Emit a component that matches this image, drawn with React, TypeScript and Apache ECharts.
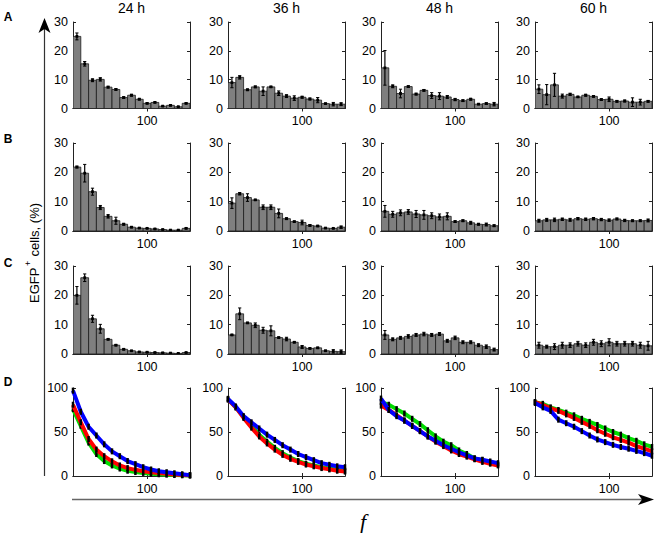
import React, { useEffect, useRef } from 'react';
import * as echarts from 'echarts';

const timeLabels = ['24 h', '36 h', '48 h', '60 h'];
const rowLabels = ['A', 'B', 'C', 'D'];
const binCenters = [10, 20, 30, 40, 50, 60, 70, 80, 90, 100, 110, 120, 130, 140, 150];
const curvePoints = [5, 15, 25, 35, 45, 55, 65, 75, 85, 95, 105, 115, 125, 135, 145, 155];
const xTickValues = [100];
const barTicks = [0, 10, 20, 30];
const curveTicks = [0, 50, 100];

// Row A
const a24 = [25, 15.5, 9.8, 10.1, 7.4, 6.6, 3.8, 4.6, 3.2, 1.8, 2.1, 0.8, 1.1, 0.6, 1.8];
const a24Err = [1.2, 0.8, 0.5, 0.6, 0.3, 0.3, 0.3, 0.3, 0.2, 0.2, 0.2, 0.1, 0.2, 0.1, 0.2];
const a36 = [9.0, 10.8, 6.5, 7.5, 6.0, 7.5, 5.3, 4.3, 3.6, 3.9, 3.3, 2.9, 1.7, 1.5, 1.5];
const a36Err = [1.8, 0.6, 0.2, 0.3, 1.5, 0.2, 0.8, 0.5, 0.8, 0.3, 0.3, 0.9, 0.2, 0.6, 0.5];
const a48 = [14.1, 7.7, 5.2, 7.6, 5.0, 6.3, 4.5, 4.3, 4.0, 3.1, 2.7, 3.2, 1.5, 1.7, 1.5];
const a48Err = [6.0, 0.5, 1.5, 0.3, 0.3, 0.3, 1.0, 1.2, 0.5, 0.4, 0.3, 0.3, 0.2, 0.3, 0.6];
const a60 = [6.7, 4.8, 8.2, 4.3, 4.9, 4.0, 4.6, 4.2, 3.1, 3.2, 2.5, 2.6, 2.2, 2.2, 2.5];
const a60Err = [1.5, 3.5, 4.0, 0.7, 0.4, 0.2, 0.3, 0.3, 0.3, 0.8, 0.3, 0.3, 1.5, 1.0, 0.3];

// Row B
const b24 = [21.8, 19.7, 13.4, 8.0, 5.0, 3.5, 2.3, 1.3, 1.0, 0.9, 0.7, 0.5, 0.3, 0.3, 0.9];
const b24Err = [0.3, 3.0, 1.2, 0.7, 0.6, 1.2, 0.3, 0.2, 0.1, 0.1, 0.1, 0.1, 0.1, 0.1, 0.2];
const b36 = [9.5, 12.7, 11.4, 10.6, 8.1, 8.1, 6.0, 4.2, 3.2, 2.9, 1.9, 1.7, 1.0, 0.9, 1.3];
const b36Err = [1.8, 0.4, 1.3, 0.2, 0.8, 0.8, 1.5, 0.3, 0.2, 0.8, 0.3, 0.2, 0.1, 0.1, 0.4];
const b48 = [6.7, 5.7, 6.2, 6.5, 5.8, 5.5, 5.2, 4.8, 5.0, 3.2, 3.5, 2.8, 2.3, 2.2, 1.8];
const b48Err = [2.0, 1.0, 1.0, 0.8, 1.2, 1.5, 1.0, 1.0, 1.2, 0.3, 0.3, 0.5, 0.3, 0.5, 0.3];
const b60 = [3.5, 3.8, 3.8, 4.0, 3.8, 4.2, 4.0, 4.2, 3.9, 3.7, 4.1, 3.6, 3.5, 3.5, 3.6];
const b60Err = [0.5, 0.5, 0.6, 0.4, 0.5, 0.4, 0.4, 0.4, 0.4, 0.4, 0.3, 0.4, 0.3, 0.3, 0.5];

// Row C
const c24 = [20, 26, 12, 8.6, 5.0, 3.0, 1.6, 1.1, 0.7, 0.6, 0.5, 0.4, 0.3, 0.2, 0.5];
const c24Err = [3.0, 1.3, 1.2, 1.5, 0.2, 0.2, 0.2, 0.1, 0.1, 0.1, 0.1, 0.1, 0.1, 0.1, 0.1];
const c36 = [6.5, 13.7, 10.6, 9.8, 8.1, 7.9, 5.6, 5.1, 4.0, 2.4, 1.9, 2.1, 1.1, 0.9, 0.8];
const c36Err = [0.2, 2.0, 0.2, 0.8, 1.0, 1.7, 0.2, 0.6, 0.2, 0.5, 0.2, 0.2, 0.2, 0.6, 0.6];
const c48 = [6.5, 5.0, 5.5, 6.0, 6.5, 6.8, 6.5, 6.8, 4.5, 5.5, 4.0, 4.0, 3.0, 2.5, 1.5];
const c48Err = [1.5, 0.5, 0.5, 0.6, 0.5, 0.6, 0.5, 0.5, 0.5, 0.6, 0.5, 0.5, 0.5, 0.6, 0.5];
const c60 = [3.0, 2.5, 2.5, 3.0, 3.0, 3.5, 3.0, 4.0, 3.5, 4.0, 3.5, 3.5, 3.5, 3.0, 2.8];
const c60Err = [1.0, 0.5, 1.0, 1.0, 0.8, 0.8, 0.8, 1.0, 1.0, 1.2, 0.8, 0.8, 0.8, 1.0, 1.5];

// Row D (green, red, blue curves)
const d24Green = [76, 57, 38, 25, 17, 12, 8.5, 6, 4.5, 3.5, 2.6, 2, 1.5, 1.1, 0.8, 0.5];
const d24Red = [81, 61, 42, 30, 22.5, 16.7, 12, 9, 7, 5.5, 4.3, 3.3, 2.5, 1.8, 1.2, 0.8];
const d24Blue = [97, 73, 56, 46, 36, 28, 22.5, 17, 13.5, 10, 7.4, 5.4, 4.3, 3.1, 2, 1];
const d36Green = [87, 78, 67, 57, 47, 39, 32, 26, 21, 17, 14, 12, 10, 8.5, 7, 6];
const d36Red = [87, 78, 66, 55, 45, 37, 30, 24, 19.5, 16, 13, 11, 9, 7.5, 6, 5];
const d36Blue = [87.7, 79, 68, 61, 54, 47, 41, 35, 30, 25, 21.5, 18, 14.6, 12.7, 11, 10];
const d48Green = [84, 81, 76, 71, 65, 59, 52, 45, 39, 35, 29, 25, 20, 18, 15, 13];
const d48Red = [80, 75, 69, 63, 57, 51, 45, 39, 34, 29, 25, 22, 19, 16, 14, 12];
const d48Blue = [88, 75, 68, 63, 57, 51, 45, 40, 35, 31, 27, 23.5, 20, 18.5, 16.5, 14.6];
const d60Green = [84, 82, 78, 75, 72, 69, 65, 61.5, 58, 54, 50, 47, 43, 40, 36, 33];
const d60Red = [84, 81, 77, 74, 70, 66, 61.5, 57, 52, 48, 44, 41, 38, 34, 31, 28];
const d60Blue = [83, 78, 74, 64, 60, 56, 51, 46, 41.5, 38.5, 35.4, 33, 31, 28.5, 26, 23];

const barRows = [
  [[a24, a24Err], [a36, a36Err], [a48, a48Err], [a60, a60Err]],
  [[b24, b24Err], [b36, b36Err], [b48, b48Err], [b60, b60Err]],
  [[c24, c24Err], [c36, c36Err], [c48, c48Err], [c60, c60Err]],
];
const curveRow = [
  [d24Green, d24Red, d24Blue],
  [d36Green, d36Red, d36Blue],
  [d48Green, d48Red, d48Blue],
  [d60Green, d60Red, d60Blue],
];
const curveColors = ['#00dd00', '#ff0000', '#0000ff'];

const colLeft = [73, 228, 381, 535];
const colWidth = 117;
const rowTop = [22, 143, 266, 388];
const rowHeight = [86.5, 88, 88, 88];
const letterY = [17, 139, 263, 382];
const FONT = '"Liberation Sans", Arial, sans-serif';

function buildOption() {
  const grid: any[] = [];
  const xAxis: any[] = [];
  const yAxis: any[] = [];
  const series: any[] = [];
  const axisLine = { show: true, lineStyle: { color: '#222', width: 1 } };
  const tickStyle = { color: '#222', width: 1 };

  for (let r = 0; r < 4; r++) {
    for (let c = 0; c < 4; c++) {
      const gi = grid.length;
      grid.push({ left: colLeft[c], top: rowTop[r], width: colWidth, height: rowHeight[r] });
      const isCurve = r === 3;
      const xi = xAxis.length;
      xAxis.push({
        type: 'value', gridIndex: gi, min: 5, max: 155, position: 'bottom',
        axisLine, splitLine: { show: false },
        axisTick: { show: true, inside: true, length: 3, customValues: xTickValues, lineStyle: tickStyle },
        axisLabel: { show: true, customValues: xTickValues, fontSize: 12.5, color: '#000', margin: 6, fontFamily: FONT },
      });
      xAxis.push({
        type: 'value', gridIndex: gi, min: 5, max: 155, position: 'top',
        axisLine, splitLine: { show: false },
        axisTick: { show: true, inside: true, length: 3, customValues: xTickValues, lineStyle: tickStyle },
        axisLabel: { show: false },
      });
      const yi = yAxis.length;
      const ticks = isCurve ? curveTicks : barTicks;
      const yBase = {
        type: 'value', gridIndex: gi, min: 0, max: ticks[ticks.length - 1], interval: ticks[1],
        axisLine, splitLine: { show: false },
        axisTick: { show: true, inside: true, length: 3, lineStyle: tickStyle },
      };
      yAxis.push({ ...yBase, position: 'left', axisLabel: { fontSize: 12.5, color: '#000', margin: 5, fontFamily: FONT } });
      yAxis.push({ ...yBase, position: 'right', axisLabel: { show: false } });

      if (!isCurve) {
        const [vals, errs] = barRows[r][c];
        series.push({
          type: 'custom', xAxisIndex: xi, yAxisIndex: yi, clip: true,
          data: binCenters.map((x, k) => [x, vals[k], errs[k]]),
          renderItem: (params: any, api: any) => {
            const x = api.value(0), y = api.value(1), e = api.value(2);
            const p0 = api.coord([x - 5, 0]);
            const p1 = api.coord([x + 5, y]);
            const top = api.coord([x, y + e]);
            const bot = api.coord([x, y - e]);
            const mid = api.coord([x, y]);
            return {
              type: 'group',
              children: [
                { type: 'rect', shape: { x: p0[0], y: p1[1], width: p1[0] - p0[0], height: p0[1] - p1[1] }, style: { fill: '#7f7f7f', stroke: '#1a1a1a', lineWidth: 0.8 } },
                { type: 'line', shape: { x1: top[0], y1: top[1], x2: bot[0], y2: bot[1] }, style: { stroke: '#000', lineWidth: 1.2 } },
                { type: 'line', shape: { x1: top[0] - 1.6, y1: top[1], x2: top[0] + 1.6, y2: top[1] }, style: { stroke: '#000', lineWidth: 1 } },
                { type: 'line', shape: { x1: bot[0] - 1.6, y1: bot[1], x2: bot[0] + 1.6, y2: bot[1] }, style: { stroke: '#000', lineWidth: 1 } },
                { type: 'rect', shape: { x: mid[0] - 1.4, y: mid[1] - 1.4, width: 2.8, height: 2.8 }, style: { fill: '#000' } },
              ],
            };
          },
        });
      } else {
        curveRow[c].forEach((vals, k) => {
          series.push({
            type: 'line', xAxisIndex: xi, yAxisIndex: yi,
            data: curvePoints.map((x, j) => [x, vals[j]]),
            symbol: 'rect', symbolSize: [2.5, 6], showSymbol: true,
            itemStyle: { color: '#000' },
            lineStyle: { color: curveColors[k], width: 4 },
            z: 2 + k,
            emphasis: { disabled: true },
          });
        });
      }
    }
  }

  const graphic: any[] = [];
  timeLabels.forEach((t, c) => {
    graphic.push({ type: 'text', x: colLeft[c] + colWidth / 2, y: 8, style: { text: t, font: `14px ${FONT}`, fill: '#000', align: 'center', verticalAlign: 'middle' } });
  });
  rowLabels.forEach((l, r) => {
    graphic.push({ type: 'text', x: 8, y: letterY[r], style: { text: l, font: `bold 12px ${FONT}`, fill: '#000', align: 'center', verticalAlign: 'middle' } });
  });
  // vertical arrow
  graphic.push({ type: 'line', shape: { x1: 44.5, y1: 28, x2: 44.5, y2: 476 }, style: { stroke: '#333', lineWidth: 1.2 } });
  graphic.push({ type: 'polygon', shape: { points: [[44.5, 18], [38.5, 33], [44.5, 29], [50.5, 33]] }, style: { fill: '#000' } });
  // horizontal arrow
  graphic.push({ type: 'line', shape: { x1: 72, y1: 499.5, x2: 645, y2: 499.5 }, style: { stroke: '#666', lineWidth: 1.5 } });
  graphic.push({ type: 'polygon', shape: { points: [[654, 499.5], [638, 494], [642, 499.5], [638, 505]] }, style: { fill: '#000' } });
  // f label
  graphic.push({ type: 'text', x: 363, y: 521, style: { text: 'f', font: 'italic 22px "Liberation Serif", "Times New Roman", serif', fill: '#000', align: 'center', verticalAlign: 'middle' } });
  // y label
  graphic.push({
    type: 'group', x: 34, y: 250, rotation: Math.PI / 2,
    children: [
      { type: 'text', x: -53, y: 0, style: { text: 'EGFP', font: `13px ${FONT}`, fill: '#000', align: 'left', verticalAlign: 'middle' } },
      { type: 'text', x: -16, y: -6, style: { text: '+', font: `9px ${FONT}`, fill: '#000', align: 'left', verticalAlign: 'middle' } },
      { type: 'text', x: -10, y: 0, style: { text: ' cells, (%)', font: `13px ${FONT}`, fill: '#000', align: 'left', verticalAlign: 'middle' } },
    ],
  });

  return { animation: false, backgroundColor: '#fff', grid, xAxis, yAxis, series, graphic };
}

export default function App() {
  const ref = useRef<HTMLDivElement>(null);
  useEffect(() => {
    if (!ref.current) return;
    const chart = echarts.init(ref.current, undefined, { renderer: 'svg' });
    chart.setOption(buildOption() as any);
    return () => chart.dispose();
  }, []);
  return <div ref={ref} style={{ position: 'fixed', left: 0, top: 0, width: 656, height: 533, background: '#fff' }} />;
}
